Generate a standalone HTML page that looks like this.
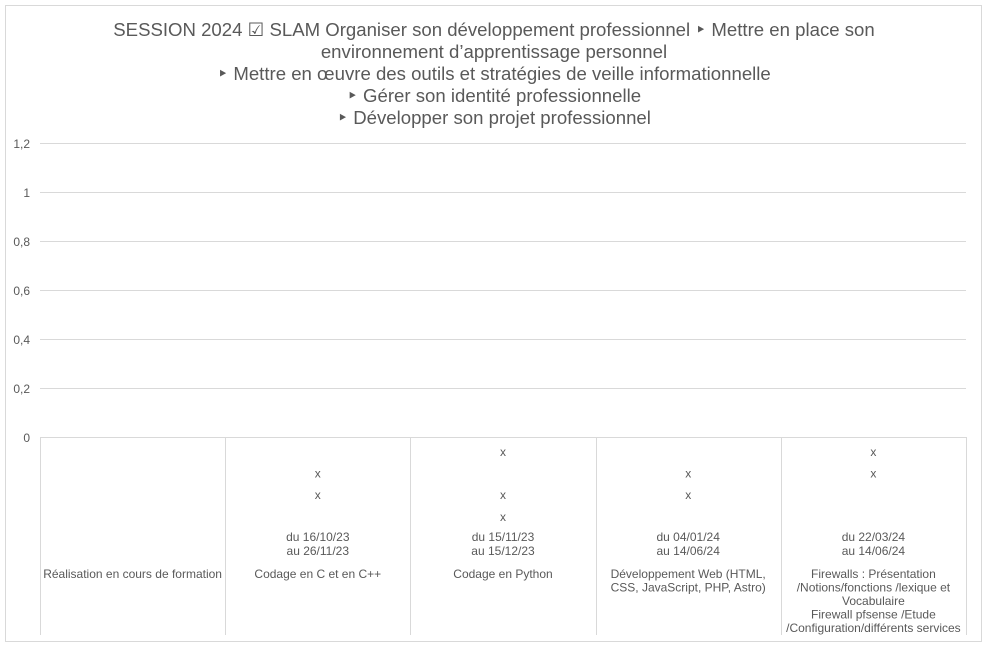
<!DOCTYPE html>
<html><head><meta charset="utf-8"><style>
body{margin:0;background:#fff;width:987px;height:648px;overflow:hidden;font-family:"Liberation Sans",sans-serif;}
</style></head><body>
<svg width="987" height="648" xmlns="http://www.w3.org/2000/svg" font-family="Liberation Sans, sans-serif">
<rect x="5.5" y="5.5" width="976" height="636" fill="#fff" stroke="#d9d9d9"/>
<g id="title" fill="#595959" font-size="18.6" text-anchor="middle">
<text x="494" y="36">SESSION 2024 ☑ SLAM Organiser son développement professionnel ‣ Mettre en place son</text>
<text x="494" y="58">environnement d’apprentissage personnel</text>
<text x="494" y="80">‣ Mettre en œuvre des outils et stratégies de veille informationnelle</text>
<text x="494" y="102">‣ Gérer son identité professionnelle</text>
<text x="494" y="124">‣ Développer son projet professionnel</text>
</g>
<g id="grid"></g><g id="yticks"></g><g id="cats"></g>
</svg>
<script>
const categories=["Réalisation en cours de formation","Codage en C et en C++","Codage en Python","Développement Web (HTML, CSS, JavaScript, PHP, Astro)","Firewalls : Présentation /Notions/fonctions /lexique et Vocabulaire|Firewall pfsense /Etude /Configuration/différents services"];
const catLines=[["Réalisation en cours de formation"],["Codage en C et en C++"],["Codage en Python"],["Développement Web (HTML,","CSS, JavaScript, PHP, Astro)"],["Firewalls : Présentation","/Notions/fonctions /lexique et","Vocabulaire","Firewall pfsense /Etude","/Configuration/différents services"]];
const dates=[[],["du 16/10/23","au 26/11/23"],["du 15/11/23","au 15/12/23"],["du 04/01/24","au 14/06/24"],["du 22/03/24","au 14/06/24"]];
const marks=[[],[2,3],[1,3,4],[2,3],[1,2]];
const values=[0,0,0,0,0];
const yTicks=[0,0.2,0.4,0.6,0.8,1,1.2];
const yTickLabels=["0","0,2","0,4","0,6","0,8","1","1,2"];
const NS="http://www.w3.org/2000/svg";
const x0=40,x1=966,y0=437,y1=143,yMax=1.2;
const ys=v=>y0-(v/yMax)*(y0-y1);
const cw=(x1-x0)/categories.length;
function mk(t,a,p){const e=document.createElementNS(NS,t);for(const k in a)e.setAttribute(k,a[k]);p.appendChild(e);return e;}
const grid=document.getElementById('grid'),yt=document.getElementById('yticks'),cg=document.getElementById('cats');
yTicks.forEach((v,i)=>{
 const l=mk('line',{x1:x0,x2:x1,y1:ys(v)+0.5,y2:ys(v)+0.5,stroke:'#d9d9d9'},grid);
 
 
 const t=mk('text',{x:30,y:ys(v)+5,'text-anchor':'end','font-size':12,fill:'#595959'},yt);
 t.textContent=yTickLabels[i];
 
 
});
for(let i=0;i<=categories.length;i++){
 const x=Math.round(x0+i*cw)+0.5;
 const l=mk('line',{x1:x,x2:x,y1:y0,y2:635,stroke:'#d9d9d9'},grid);
 
 
}
categories.forEach((c,i)=>{
 const cx=x0+(i+0.5)*cw;
 const g=mk('g',{fill:'#595959','font-size':12,'text-anchor':'middle'},cg);
 
 
 marks[i].forEach(r=>{const t=mk('text',{x:cx,y:456+(r-1)*21.6},g);t.textContent='x';});
 dates[i].forEach((d,j)=>{const t=mk('text',{x:cx,y:541+j*14},g);t.textContent=d;});
 catLines[i].forEach((d,j)=>{const t=mk('text',{x:cx,y:578+j*13.5},g);t.textContent=d;});
 if(values[i]>0){const b=mk('rect',{x:cx-cw*0.3,width:cw*0.6,y:ys(values[i]),height:y0-ys(values[i]),fill:'#4472c4'},cg);}
});
</script>
</body></html>
